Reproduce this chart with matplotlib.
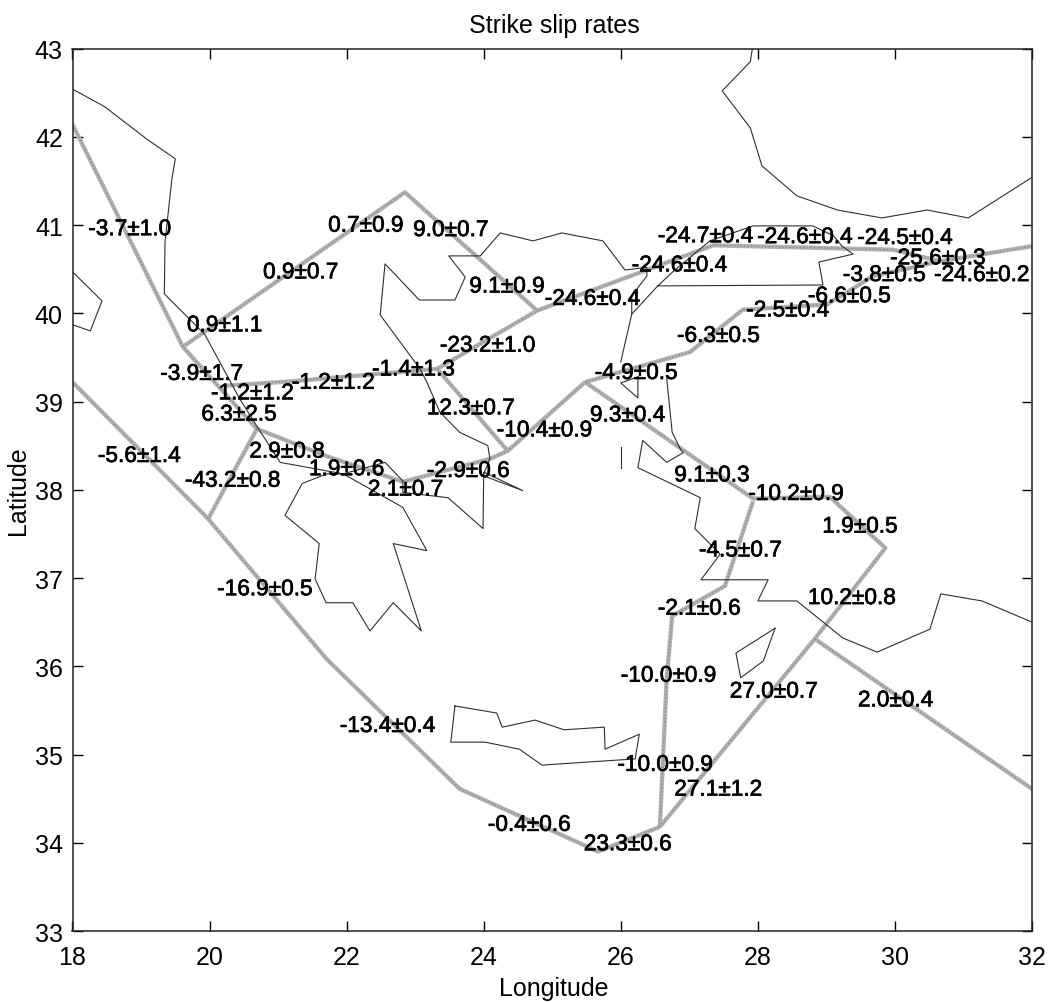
import matplotlib
matplotlib.use('Agg')
import matplotlib.pyplot as plt
import matplotlib.patheffects as pe

# plate boundary segments, lon / lat
trench_lon = [18.00, 19.98, 21.71, 23.65, 25.67, 26.57]
trench_lat = [39.22, 37.67, 36.08, 34.61, 33.90, 34.18]
strait_lon = [26.57, 26.67, 26.75, 27.52, 27.93]
strait_lat = [34.18, 35.86, 36.57, 36.91, 37.87]
ramp_lon = [26.57, 28.83, 29.86, 29.05, 27.93, 25.48]
ramp_lat = [34.18, 36.31, 37.34, 37.92, 37.90, 39.22]
east_lon = [28.83, 32.00]
east_lat = [36.31, 34.61]
upper_lon = [25.48, 27.01, 27.78, 29.01, 29.68, 30.66, 32.00]
upper_lat = [39.22, 39.56, 40.04, 40.10, 40.42, 40.59, 40.76]
naf_lon = [24.78, 27.35, 29.97, 30.66]
naf_lat = [40.03, 40.77, 40.72, 40.59]
north_lon = [18.00, 19.61, 20.69]
north_lat = [42.14, 39.62, 38.69]
arc_lon = [19.61, 22.85, 24.78]
arc_lat = [39.62, 41.37, 40.03]
mid_lon = [20.25, 21.22, 23.32, 24.78]
mid_lat = [39.18, 39.23, 39.37, 40.03]
branch_lon = [23.32, 24.35]
branch_lat = [39.37, 38.44]
lower_lon = [20.69, 21.71, 22.82, 24.09, 24.35, 25.48]
lower_lat = [38.69, 38.38, 38.09, 38.35, 38.44, 39.22]
link_lon = [19.98, 20.69]
link_lat = [37.67, 38.69]
faults = [(trench_lon, trench_lat), (strait_lon, strait_lat), (ramp_lon, ramp_lat),
          (east_lon, east_lat), (upper_lon, upper_lat), (naf_lon, naf_lat),
          (north_lon, north_lat), (arc_lon, arc_lat), (mid_lon, mid_lat),
          (branch_lon, branch_lat), (lower_lon, lower_lat), (link_lon, link_lat)]

# coastlines
west_lon = [18.00, 18.47, 19.09, 19.50, 19.45, 19.35, 19.34, 19.93, 20.44, 20.69, 21.03, 21.10,
            21.95, 22.82, 23.17, 22.68, 23.09, 22.68, 22.34, 22.09, 21.70, 21.54, 21.60, 21.10,
            21.35, 21.71, 21.95]
west_lat = [42.54, 42.34, 41.97, 41.75, 41.52, 40.81, 40.22, 39.76, 39.03, 38.72, 38.31, 38.30,
            38.18, 37.80, 37.31, 37.39, 36.40, 36.72, 36.40, 36.72, 36.72, 36.99, 37.39, 37.71,
            38.07, 38.18, 38.18]
aegean_lon = [21.95, 22.56, 22.82, 22.82, 23.48, 23.99, 24.00, 24.57, 23.99, 24.09, 24.06, 23.65,
              23.36, 23.17, 23.07, 22.49, 22.56, 23.06, 23.58, 23.73, 23.49, 23.95, 24.24, 24.72,
              25.14, 25.74, 26.06, 26.38, 26.38, 26.16, 26.16, 26.00]
aegean_lat = [38.18, 38.31, 38.10, 37.97, 37.91, 37.56, 38.20, 37.99, 38.16, 38.35, 38.50, 38.65,
              38.88, 39.22, 39.37, 39.98, 40.56, 40.15, 40.15, 40.41, 40.65, 40.65, 40.91, 40.82,
              40.91, 40.82, 40.49, 40.52, 40.42, 40.20, 39.99, 39.45]
turkey_lon = [26.67, 26.75, 26.87, 26.91, 26.67, 26.32, 26.25, 27.16, 27.08, 27.45, 27.17, 28.15,
              28.00, 28.57, 29.24, 29.74, 30.51, 30.67, 31.27, 32.00]
turkey_lat = [39.26, 38.65, 38.46, 38.42, 38.31, 38.56, 38.25, 37.91, 37.56, 37.27, 36.98, 36.98,
              36.74, 36.74, 36.32, 36.16, 36.42, 36.82, 36.74, 36.50]
marmara_lon = [26.16, 26.54, 28.95, 28.89, 29.39, 29.23, 29.10, 28.80, 27.93, 27.30, 26.76, 26.54]
marmara_lat = [39.99, 40.31, 40.32, 40.58, 40.67, 40.76, 40.88, 40.99, 40.99, 40.82, 40.47, 40.31]
lesbos_lon = [26.25, 26.00, 26.25, 26.25]
lesbos_lat = [39.28, 39.21, 39.04, 39.28]
chios_lon = [26.00, 26.00]
chios_lat = [38.48, 38.25]
black_lon = [27.92, 27.89, 27.48, 27.89, 28.06, 28.57, 29.16, 29.81, 30.47, 31.07, 32.00]
black_lat = [43.00, 42.85, 42.52, 42.10, 41.67, 41.33, 41.17, 41.08, 41.17, 41.08, 41.54]
italy_lon = [18.00, 18.43, 18.26, 18.00]
italy_lat = [40.47, 40.14, 39.80, 39.87]
crete_lon = [23.58, 24.19, 24.27, 24.75, 25.17, 25.76, 25.77, 26.27, 26.21, 24.85, 24.52, 24.02, 23.52, 23.58]
crete_lat = [35.55, 35.47, 35.31, 35.39, 35.28, 35.31, 35.06, 35.23, 34.95, 34.88, 35.06, 35.14, 35.14, 35.55]
rhodes_lon = [28.25, 27.68, 27.75, 28.08, 28.25]
rhodes_lat = [36.43, 36.15, 35.87, 36.06, 36.43]
coasts = [(west_lon, west_lat), (aegean_lon, aegean_lat), (turkey_lon, turkey_lat),
          (marmara_lon, marmara_lat), (lesbos_lon, lesbos_lat), (chios_lon, chios_lat),
          (black_lon, black_lat), (italy_lon, italy_lat), (crete_lon, crete_lat),
          (rhodes_lon, rhodes_lat)]

# slip rate labels, left edge of the text at label_lon
label_text = ['-3.7±1.0', '0.7±0.9', '9.0±0.7', '0.9±0.7', '9.1±0.9', '0.9±1.1', '-23.2±1.0',
              '-3.9±1.7', '-1.4±1.3', '-1.2±1.2', '-1.2±1.2', '6.3±2.5', '12.3±0.7', '-10.4±0.9',
              '2.9±0.8', '-5.6±1.4', '1.9±0.6', '-2.9±0.6', '-43.2±0.8', '2.1±0.7', '-16.9±0.5',
              '-24.7±0.4', '-24.6±0.4', '-24.5±0.4', '-25.6±0.3', '-24.6±0.4', '-3.8±0.5',
              '-24.6±0.2', '-6.6±0.5', '-24.6±0.4', '-2.5±0.4', '-6.3±0.5', '-4.9±0.5', '9.3±0.4',
              '9.1±0.3', '-10.2±0.9', '1.9±0.5', '-4.5±0.7', '10.2±0.8', '-2.1±0.6', '-10.0±0.9',
              '27.0±0.7', '2.0±0.4', '-13.4±0.4', '-10.0±0.9', '27.1±1.2', '-0.4±0.6', '23.3±0.6']
label_lon = [18.23, 21.73, 22.97, 20.78, 23.79, 19.67, 23.36,
             19.28, 22.37, 21.20, 20.02, 19.88, 23.17, 24.19,
             20.58, 18.37, 21.45, 23.17, 19.64, 22.31, 20.11,
             26.54, 27.99, 29.45, 29.93, 26.16, 29.24,
             30.57, 28.73, 24.89, 27.83, 26.82, 25.62, 25.55,
             26.78, 27.86, 28.94, 27.14, 28.73, 26.54, 26.00,
             27.59, 29.46, 21.90, 25.95, 26.78, 24.06, 25.46]
label_lat = [40.99, 41.03, 40.98, 40.50, 40.34, 39.90, 39.67,
             39.35, 39.40, 39.25, 39.13, 38.89, 38.96, 38.71,
             38.47, 38.42, 38.27, 38.25, 38.14, 38.04, 36.91,
             40.91, 40.90, 40.89, 40.66, 40.58, 40.47,
             40.47, 40.23, 40.20, 40.07, 39.78, 39.36, 38.88,
             38.20, 37.99, 37.62, 37.35, 36.81, 36.69, 35.93,
             35.75, 35.65, 35.36, 34.92, 34.64, 34.24, 34.02]

plt.rcParams['font.family'] = ['Liberation Sans', 'DejaVu Sans']

W, H = 1053.0, 1003.0
fig = plt.figure(figsize=(10.53, 10.03), dpi=100, facecolor='white')
ax = fig.add_axes([72.5 / W, 1 - 932.0 / H, (1032.0 - 72.5) / W, (932.0 - 49.5) / H])

for lon, lat in faults:
    ax.plot(lon, lat, color='#b2b2b2', lw=3.1, solid_joinstyle='round', solid_capstyle='butt', zorder=2)
    ax.plot(lon, lat, color='#8c8c8c', lw=1.0, ls=(0, (1, 1.5)), zorder=2.1)
for lon, lat in coasts:
    ax.plot(lon, lat, color='#303030', lw=0.8, zorder=3)
#
for txt, lon, lat in zip(label_text, label_lon, label_lat):
    ax.annotate(txt, (lon, lat), xytext=(0, -2), textcoords='offset points',
                fontsize=16.3, color='black', ha='left', va='center', zorder=4,
                path_effects=[pe.withStroke(linewidth=0.5, foreground='black')])

ax.set_xlim(18, 32)
ax.set_ylim(33, 43)
ax.set_xticks(range(18, 33, 2))
ax.set_yticks(range(33, 44))
ax.tick_params(direction='in', length=7.5, width=1.0, top=True, right=True, labelsize=18)
ax.tick_params(axis='x', pad=10)
ax.tick_params(axis='y', pad=7)
for sp in ax.spines.values():
    sp.set_linewidth(1.1)
    sp.set_color('#222222')
ax.set_title('Strike slip rates', fontsize=18, pad=12, x=0.502)
ax.set_xlabel('Longitude', fontsize=18, labelpad=5, x=0.502)
ax.set_ylabel('Latitude', fontsize=18, labelpad=3.5)

fig.savefig('out.png', dpi=100, facecolor='white')
